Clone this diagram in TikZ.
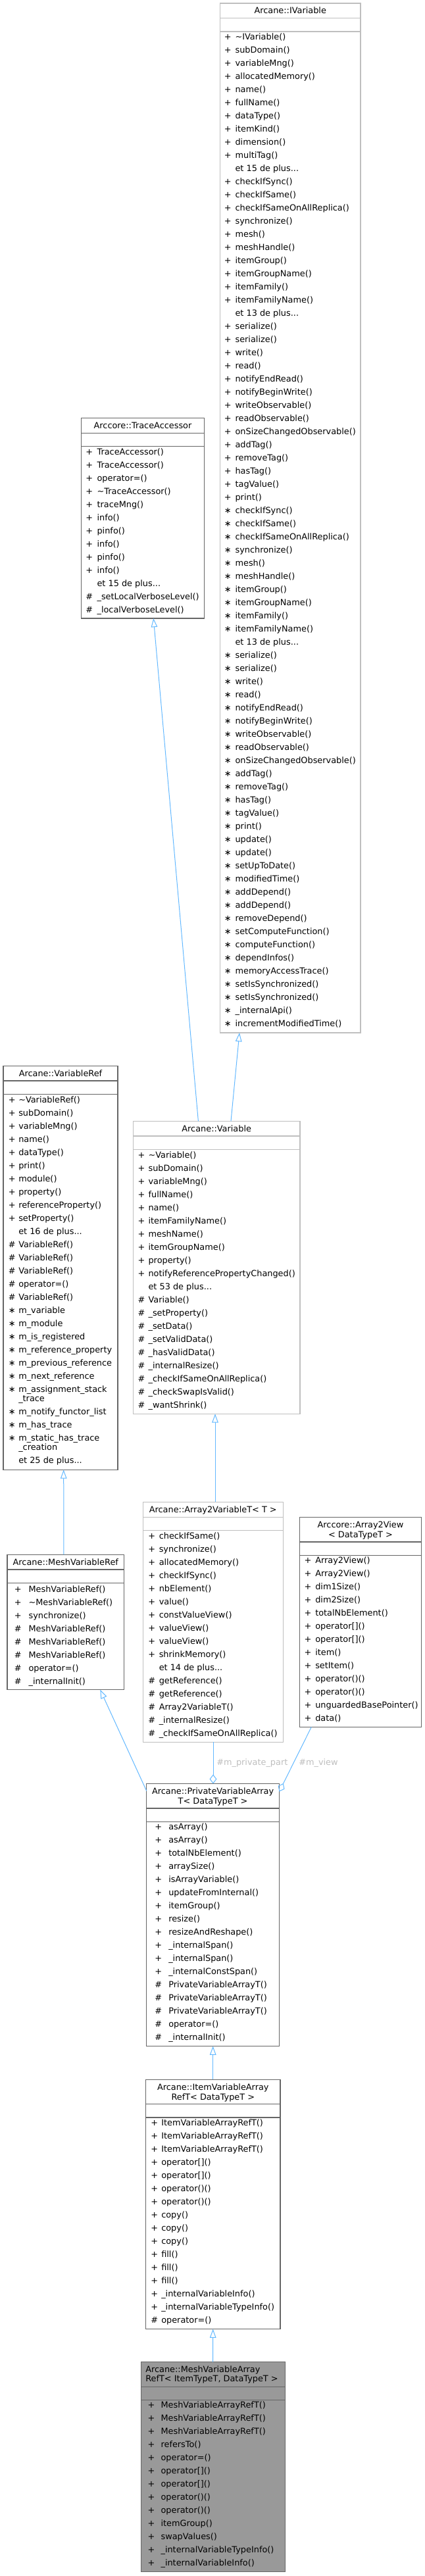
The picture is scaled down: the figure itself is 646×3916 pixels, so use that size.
\documentclass[tikz,border=0pt]{standalone}
\usepackage{fontspec}
\setmainfont{DejaVu Sans}
\usetikzlibrary{arrows.meta,calc}
\definecolor{edgeblue}{HTML}{63B8FF}
\definecolor{lightborder}{HTML}{BFBFBF}
\definecolor{darkborder}{HTML}{666666}
\definecolor{focusfill}{HTML}{999999}
\definecolor{labelgrey}{HTML}{BEBEBE}
\newcommand\mydots{...}
\newcommand\pfx[1]{\if#1p+\fi\if#1h\#\fi\if#1s∗\fi}
\tikzset{
  txt/.style={inner sep=0pt, font=\fontsize{9.65}{11}\selectfont},
  member/.style={txt, anchor=base west},
  classtitle/.style={txt, anchor=base},
  boxbase/.style={line width=0.9pt, inner sep=0pt, outer sep=0pt, anchor=north west},
  lightbox/.style={boxbase, draw=lightborder, fill=white},
  darkbox/.style={boxbase, draw=darkborder, fill=white},
  focusbox/.style={boxbase, draw=darkborder, fill=focusfill},
  lightsep/.style={draw=lightborder, line width=0.9pt},
  darksep/.style={draw=darkborder, line width=0.9pt},
  inherit/.style={draw=edgeblue, line width=0.75pt, -{Triangle[open,length=10pt,width=7.2pt]}},
  compose/.style={draw=edgeblue, line width=0.75pt, -{Diamond[open,length=10.5pt,width=8.2pt]}},
  edgelabel/.style={txt, anchor=base west, text=labelgrey}
}
% #1 name, #2 style, #3 left, #4 top, #5 right, #6 bottom
\newcommand\classbox[6]{%
  \node[#2, minimum width={(#5-#3)*0.75pt}, minimum height={(#6-#4)*0.75pt}] (#1) at (#3,#4) {};}
% #1 box, #2 sep style, #3 offset 1, #4 offset 2
\newcommand\seps[4]{%
  \draw[#2] ($(#1.north west)+(0,#3)$) -- ($(#1.north east)+(0,#3)$);
  \draw[#2] ($(#1.north west)+(0,#4)$) -- ($(#1.north east)+(0,#4)$);}
% #1 name, #2 prefix x, #3 text x, #4 first baseline, #5 list
\newcommand\members[5]{%
  \foreach \p/\t [count=\i from 0] in {#5} {
    \node[member] (#1-p\i) at (#2,{#4+20*\i}) {\pfx{\p}};
    \node[member] (#1-m\i) at (#3,{#4+20*\i}) {\t};
  }}
\begin{document}
\begin{tikzpicture}[x=0.75pt,y=-0.75pt]
\useasboundingbox (0,0) rectangle (646,3916);

% ---------------- IVariable
\classbox{ivar}{lightbox}{334.3}{5}{548}{1570}
\seps{ivar}{lightsep}{22.5}{43}
\node[classtitle] (ivar-title) at (441.2,20.9) {Arcane::IVariable};
\members{ivar}{340.7}{357.3}{60.9}{p/\textasciitilde IVariable(), p/subDomain(), p/variableMng(), p/allocatedMemory(), p/name(), p/fullName(), p/dataType(), p/itemKind(), p/dimension(), p/multiTag(), n/et 15 de plus\mydots, p/checkIfSync(), p/checkIfSame(), p/checkIfSameOnAllReplica(), p/synchronize(), p/mesh(), p/meshHandle(), p/itemGroup(), p/itemGroupName(), p/itemFamily(), p/itemFamilyName(), n/et 13 de plus\mydots, p/serialize(), p/serialize(), p/write(), p/read(), p/notifyEndRead(), p/notifyBeginWrite(), p/writeObservable(), p/readObservable(), p/onSizeChangedObservable(), p/addTag(), p/removeTag(), p/hasTag(), p/tagValue(), p/print(), s/checkIfSync(), s/checkIfSame(), s/checkIfSameOnAllReplica(), s/synchronize(), s/mesh(), s/meshHandle(), s/itemGroup(), s/itemGroupName(), s/itemFamily(), s/itemFamilyName(), n/et 13 de plus\mydots, s/serialize(), s/serialize(), s/write(), s/read(), s/notifyEndRead(), s/notifyBeginWrite(), s/writeObservable(), s/readObservable(), s/onSizeChangedObservable(), s/addTag(), s/removeTag(), s/hasTag(), s/tagValue(), s/print(), s/update(), s/update(), s/setUpToDate(), s/modifiedTime(), s/addDepend(), s/addDepend(), s/removeDepend(), s/setComputeFunction(), s/computeFunction(), s/dependInfos(), s/memoryAccessTrace(), s/setIsSynchronized(), s/setIsSynchronized(), s/\_internalApi(), s/incrementModifiedTime()}

% ---------------- TraceAccessor
\classbox{trace}{darkbox}{123.3}{635.6}{310.7}{940}
\seps{trace}{darksep}{22.7}{43}
\node[classtitle] (trace-title) at (217,651.3) {Arccore::TraceAccessor};
\members{trace}{130}{147.3}{691.5}{p/TraceAccessor(), p/TraceAccessor(), p/operator=(), p/\textasciitilde TraceAccessor(), p/traceMng(), p/info(), p/pinfo(), p/info(), p/pinfo(), p/info(), n/et 15 de plus\mydots, h/\_setLocalVerboseLevel(), h/\_localVerboseLevel()}

% ---------------- VariableRef
\classbox{vref}{darkbox}{5}{1620.3}{179}{2234.3}
\seps{vref}{darksep}{22.7}{43}
\node[classtitle] (vref-title) at (92,1636) {Arcane::VariableRef};
\members{vref}{12.7}{28}{1676.2}{p/\textasciitilde VariableRef(), p/subDomain(), p/variableMng(), p/name(), p/dataType(), p/print(), p/module(), p/property(), p/referenceProperty(), p/setProperty(), n/et 16 de plus\mydots, h/VariableRef(), h/VariableRef(), h/VariableRef(), h/operator=(), h/VariableRef(), s/m\_variable, s/m\_module, s/m\_is\_registered, s/m\_reference\_property, s/m\_previous\_reference, s/m\_next\_reference, s/m\_assignment\_stack}
\node[member] (vref-wrap1) at (28,2130.7) {\_trace};
\members{vrefb}{12.7}{28}{2150.2}{s/m\_notify\_functor\_list, s/m\_has\_trace, s/m\_static\_has\_trace}
\node[member] (vref-wrap2) at (28,2204.7) {\_creation};
\node[member] (vref-more) at (28,2224.7) {et 25 de plus\mydots};

% ---------------- Variable
\classbox{var}{lightbox}{202.3}{1704.3}{456}{2149.3}
\seps{var}{lightsep}{22.7}{43}
\node[classtitle] (var-title) at (329.2,1720) {Arcane::Variable};
\members{var}{209.3}{225.3}{1760.2}{p/\textasciitilde Variable(), p/subDomain(), p/variableMng(), p/fullName(), p/name(), p/itemFamilyName(), p/meshName(), p/itemGroupName(), p/property(), p/notifyReferencePropertyChanged(), n/et 53 de plus\mydots, h/Variable(), h/\_setProperty(), h/\_setData(), h/\_setValidData(), h/\_hasValidData(), h/\_internalResize(), h/\_checkIfSameOnAllReplica(), h/\_checkSwapIsValid(), h/\_wantShrink()}

% ---------------- MeshVariableRef
\classbox{mvref}{darkbox}{11}{2363.3}{188.7}{2568.7}
\seps{mvref}{darksep}{22.7}{43}
\node[classtitle] (mvref-title) at (99.8,2379) {Arcane::MeshVariableRef};
\members{mvref}{21.7}{43.3}{2420.2}{p/MeshVariableRef(), p/\textasciitilde MeshVariableRef(), p/synchronize(), h/MeshVariableRef(), h/MeshVariableRef(), h/MeshVariableRef(), h/operator=(), h/\_internalInit()}

% ---------------- Array2VariableT
\classbox{a2v}{lightbox}{217.3}{2283.4}{430.3}{2648.4}
\seps{a2v}{lightsep}{22.7}{43}
\node[classtitle] (a2v-title) at (323.8,2299.1) {Arcane::Array2VariableT< T >};
\members{a2v}{225}{241.5}{2339.2}{p/checkIfSame(), p/synchronize(), p/allocatedMemory(), p/checkIfSync(), p/nbElement(), p/value(), p/constValueView(), p/valueView(), p/valueView(), p/shrinkMemory(), n/et 14 de plus\mydots, h/getReference(), h/getReference(), h/Array2VariableT(), h/\_internalResize(), h/\_checkIfSameOnAllReplica()}

% ---------------- Array2View
\classbox{a2view}{darkbox}{455.3}{2306.4}{640.7}{2625.4}
\seps{a2view}{darksep}{37.5}{57.7}
\node[classtitle] (a2view-title1) at (548,2322.6) {Arccore::Array2View};
\node[classtitle] (a2view-title2) at (548,2337.1) {< DataTypeT >};
\members{a2view}{462.3}{479}{2376.6}{p/Array2View(), p/Array2View(), p/dim1Size(), p/dim2Size(), p/totalNbElement(), p/operator[](), p/operator[](), p/item(), p/setItem(), p/operator()(), p/operator()(), p/unguardedBasePointer(), p/data()}

% ---------------- PrivateVariableArrayT
\classbox{pva}{darkbox}{222.7}{2711.5}{424.5}{3110.5}
\seps{pva}{darksep}{37.5}{57.7}
\node[classtitle] (pva-title1) at (323.6,2727.7) {Arcane::PrivateVariableArray};
\node[classtitle] (pva-title2) at (323.6,2742.2) {T< DataTypeT >};
\members{pva}{235}{256}{2781.9}{p/asArray(), p/asArray(), p/totalNbElement(), p/arraySize(), p/isArrayVariable(), p/updateFromInternal(), p/itemGroup(), p/resize(), p/resizeAndReshape(), p/\_internalSpan(), p/\_internalSpan(), p/\_internalConstSpan(), h/PrivateVariableArrayT(), h/PrivateVariableArrayT(), h/PrivateVariableArrayT(), h/operator=(), h/\_internalInit()}

% ---------------- ItemVariableArrayRefT
\classbox{iva}{darkbox}{221.7}{3161.3}{426}{3540.5}
\seps{iva}{darksep}{37.5}{57.7}
\node[classtitle] (iva-title1) at (323.8,3177.5) {Arcane::ItemVariableArray};
\node[classtitle] (iva-title2) at (323.8,3192) {RefT< DataTypeT >};
\members{iva}{229}{245}{3231.8}{p/ItemVariableArrayRefT(), p/ItemVariableArrayRefT(), p/ItemVariableArrayRefT(), p/operator[](), p/operator[](), p/operator()(), p/operator()(), p/copy(), p/copy(), p/copy(), p/fill(), p/fill(), p/fill(), p/\_internalVariableInfo(), p/\_internalVariableTypeInfo(), h/operator=()}

% ---------------- MeshVariableArrayRefT (focus)
\classbox{mvar}{focusbox}{214.3}{3590.7}{433.3}{3909.5}
\seps{mvar}{darksep}{37.5}{57.7}
\node[member] (mvar-title1) at (221,3606.5) {Arcane::MeshVariableArray};
\node[member] (mvar-title2) at (221,3620.7) {RefT< ItemTypeT, DataTypeT >};
\members{mvar}{224.3}{244.3}{3660.6}{p/MeshVariableArrayRefT(), p/MeshVariableArrayRefT(), p/MeshVariableArrayRefT(), p/refersTo(), p/operator=(), p/operator[](), p/operator[](), p/operator()(), p/operator()(), p/itemGroup(), p/swapValues(), p/\_internalVariableTypeInfo(), p/\_internalVariableInfo()}

% ---------------- connectors
\draw[inherit] ($(var.north west)+(148.7,0)$) -- ($(ivar.south west)+(29.7,0)$);
\draw[inherit] ($(var.north west)+(99.1,0)$) -- ($(trace.south west)+(110,0)$);
\draw[inherit] ($(a2v.north west)+(109.7,0)$) -- ($(var.south west)+(124.7,0)$);
\draw[inherit] ($(mvref.north west)+(86,0)$) -- ($(vref.south west)+(91.7,0)$);
\draw[inherit] ($(pva.north west)+(0,10.9)$) -- ($(mvref.south west)+(141.3,0)$);
\draw[inherit] ($(iva.north west)+(102,0)$) -- ($(pva.south west)+(101,0)$);
\draw[inherit] ($(mvar.north west)+(109.4,0)$) -- ($(iva.south west)+(102,0)$);
\draw[compose] ($(a2v.south west)+(106.7,0)$) -- ($(pva.north west)+(101.3,0)$);
\node[edgelabel] (lbl-private) at (329,2683.9) {\#m\_private\_part};
\draw[compose] ($(a2view.south west)+(18,0)$) -- ($(pva.north east)+(0,12)$);
\node[edgelabel] (lbl-view) at (454,2683.9) {\#m\_view};
\end{tikzpicture}
\end{document}
